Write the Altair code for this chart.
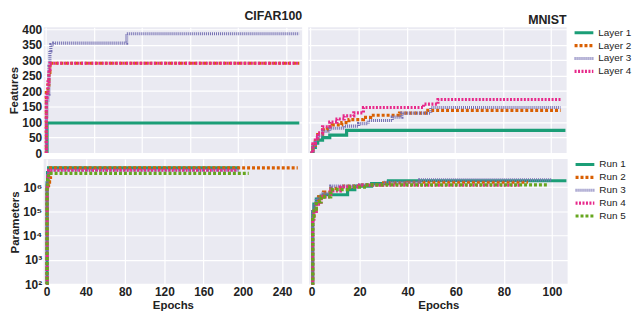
import altair as alt
import pandas as pd

LAYERS = ["Layer 1", "Layer 2", "Layer 3", "Layer 4"]
RUNS = ["Run 1", "Run 2", "Run 3", "Run 4", "Run 5"]
LAYER_COLORS = ["#1b9e77", "#d95f02", "#7570b3", "#e7298a"]
RUN_COLORS = ["#1b9e77", "#d95f02", "#7570b3", "#e7298a", "#66a61e"]
LAYER_DASH = [[1, 0], [3, 2], [1, 1], [2, 1.5]]
RUN_DASH = [[1, 0], [3, 2], [1, 1], [2, 1.5], [3, 2]]

# ---- CIFAR100 features per layer (epoch, features) ----
cifar_l1_x = [0, 1, 264]
cifar_l1_y = [0, 97, 97]
cifar_l2_x = [0, 0.3, 2, 3, 4, 264]
cifar_l2_y = [0, 195, 220, 260, 290, 290]
cifar_l3_x = [0, 0.5, 1, 2, 3, 4, 5, 8, 83, 84, 264]
cifar_l3_y = [0, 110, 165, 190, 280, 330, 350, 355, 355, 385, 385]
cifar_l4_x = [0, 0.3, 1, 2, 3, 4, 264]
cifar_l4_y = [0, 180, 195, 230, 270, 290, 290]

# ---- MNIST features per layer ----
mnist_l1_x = [0, 1, 2, 3, 5, 8, 14, 15, 106]
mnist_l1_y = [0, 18, 32, 42, 50, 58, 58, 73, 73]
mnist_l2_x = [0, 1, 2, 3, 5, 7, 9, 13, 16, 22, 25, 37, 48, 104]
mnist_l2_y = [0, 25, 45, 60, 75, 85, 91, 98, 108, 115, 122, 129, 138, 138]
mnist_l3_x = [0, 1, 2, 3, 5, 8, 14, 20, 24, 34, 38, 50, 104]
mnist_l3_y = [0, 20, 40, 55, 70, 80, 87, 95, 105, 116, 129, 147, 147]
mnist_l4_x = [0, 1, 2, 3, 5, 8, 11, 14, 18, 22, 46, 47, 53, 104]
mnist_l4_y = [0, 30, 50, 65, 85, 100, 110, 120, 130, 147, 147, 158, 173, 173]

# ---- CIFAR100 parameters per run ----
cifar_r1_x = [0, 0.5, 1, 2, 196]
cifar_r1_y = [100, 1.5e6, 4.0e6, 6.3e6, 6.3e6]
cifar_r2_x = [0, 0.5, 2, 3, 4, 256]
cifar_r2_y = [100, 1.0e6, 1.6e6, 2.5e6, 6.3e6, 6.3e6]
cifar_r3_x = [0, 0.5, 1, 2, 196]
cifar_r3_y = [100, 1.2e6, 3.0e6, 5.0e6, 5.0e6]
cifar_r4_x = [0, 0.5, 1, 2, 195]
cifar_r4_y = [100, 1.0e6, 2.6e6, 5.0e6, 5.0e6]
cifar_r5_x = [0, 0.5, 1, 2, 206]
cifar_r5_y = [100, 1.0e6, 2.0e6, 3.7e6, 3.7e6]

# ---- MNIST parameters per run ----
mnist_r1_x = [0, 0.5, 1, 2, 3, 5, 14, 15, 18, 25, 32, 106]
mnist_r1_y = [100, 1.0e5, 2.0e5, 3.2e5, 4.0e5, 4.9e5, 4.9e5, 8.0e5, 1.1e6, 1.4e6, 1.85e6, 1.85e6]
mnist_r2_x = [0, 0.5, 1, 2, 3, 5, 8, 12, 20, 30, 40, 90]
mnist_r2_y = [100, 5.0e4, 1.25e5, 2.5e5, 4.0e5, 6.3e5, 8.9e5, 1.1e6, 1.25e6, 1.5e6, 1.6e6, 1.6e6]
mnist_r3_x = [0, 0.5, 1, 2, 4, 8, 20, 30, 45, 100]
mnist_r3_y = [100, 1.0e5, 2.0e5, 3.5e5, 5.6e5, 1.1e6, 1.25e6, 1.6e6, 2.0e6, 2.0e6]
mnist_r4_x = [0, 0.5, 1, 2, 4, 8, 12, 20, 87]
mnist_r4_y = [100, 4.0e4, 1.0e5, 2.0e5, 4.0e5, 7.1e5, 1.0e6, 1.2e6, 1.2e6]
mnist_r5_x = [0, 0.5, 1, 2, 4, 8, 15, 22, 98]
mnist_r5_y = [100, 6.3e4, 1.25e5, 2.5e5, 4.0e5, 7.9e5, 1.0e6, 1.25e6, 1.35e6]


def frame(names, xs, ys):
    rows = []
    for i, (n, xx, yy) in enumerate(zip(names, xs, ys)):
        for a, b in zip(xx, yy):
            rows.append({"series": n, "order": i, "epoch": a, "value": b})
    return pd.DataFrame(rows)


cf = frame(LAYERS, [cifar_l1_x, cifar_l2_x, cifar_l3_x, cifar_l4_x],
           [cifar_l1_y, cifar_l2_y, cifar_l3_y, cifar_l4_y])
mf = frame(LAYERS, [mnist_l1_x, mnist_l2_x, mnist_l3_x, mnist_l4_x],
           [mnist_l1_y, mnist_l2_y, mnist_l3_y, mnist_l4_y])
cp = frame(RUNS, [cifar_r1_x, cifar_r2_x, cifar_r3_x, cifar_r4_x, cifar_r5_x],
           [cifar_r1_y, cifar_r2_y, cifar_r3_y, cifar_r4_y, cifar_r5_y])
mp = frame(RUNS, [mnist_r1_x, mnist_r2_x, mnist_r3_x, mnist_r4_x, mnist_r5_x],
           [mnist_r1_y, mnist_r2_y, mnist_r3_y, mnist_r4_y, mnist_r5_y])

W, H = 261, 127
LABEL_FONT = "Liberation Sans"
NARROW = "Liberation Sans Narrow, Liberation Sans"
sup = "['⁰','¹','²','³','⁴','⁵','⁶','⁷','⁸']"


def panel(df, names, colors, dashes, xdom, xticks, xlabels, ylog, ylabels, ytitle, title):
    if ylog:
        yscale = alt.Scale(type="log", domain=[95, 1.45e7], nice=False)
        yaxis = alt.Axis(values=[1e2, 1e3, 1e4, 1e5, 1e6], labels=ylabels,
                         labelExpr="'10' + " + sup + "[round(log(datum.value)/LN10)]",
                         title=ytitle if ylabels else None)
    else:
        yscale = alt.Scale(domain=[0, 406], nice=False)
        yaxis = alt.Axis(values=list(range(0, 401, 50)), labels=ylabels,
                         title=ytitle if ylabels else None)
    xaxis = alt.Axis(values=xticks, labels=xlabels, title="Epochs" if xlabels else None,
                     labelFlush=False, titleFont=NARROW)
    ch = alt.Chart(df).mark_line(interpolate="step-after", strokeWidth=3.2, clip=True).encode(
        x=alt.X("epoch:Q", scale=alt.Scale(domain=xdom, nice=False, zero=False), axis=xaxis),
        y=alt.Y("value:Q", scale=yscale, axis=yaxis),
        color=alt.Color("series:N", scale=alt.Scale(domain=names, range=colors),
                        legend=alt.Legend(title=None)),
        strokeDash=alt.StrokeDash("series:N", scale=alt.Scale(domain=names, range=dashes),
                                  legend=alt.Legend(title=None)),
        order="order:Q",
        detail="series:N",
    ).properties(width=W, height=H)
    if title:
        ch = ch.properties(title=alt.TitleParams(title, anchor="end"))
    return ch


top = alt.hconcat(
    panel(cf, LAYERS, LAYER_COLORS, LAYER_DASH, [-2.5, 267], [0, 50, 100, 150, 200, 250],
          False, False, True, "Features", "CIFAR100"),
    panel(mf, LAYERS, LAYER_COLORS, LAYER_DASH, [-1, 106.5], [0, 20, 40, 60, 80, 100],
          False, False, False, None, "MNIST"),
    spacing=6,
)
bottom = alt.hconcat(
    panel(cp, RUNS, RUN_COLORS, RUN_DASH, [-3, 260.5], [0, 40, 80, 120, 160, 200, 240],
          True, True, True, "Parameters", None),
    panel(mp, RUNS, RUN_COLORS, RUN_DASH, [-1, 106.5], [0, 20, 40, 60, 80, 100],
          True, True, False, None, None),
    spacing=6,
)

chart = alt.vconcat(top, bottom, spacing=0).resolve_scale(
    color="independent", strokeDash="independent"
).configure(padding=0, background="white").configure_view(
    fill="#EAEAF2", stroke=None
).configure_axis(
    domain=False, ticks=False, grid=True, gridColor="white", gridWidth=1.2,
    labelFont=LABEL_FONT, labelFontWeight="bold", labelFontSize=12, labelColor="#222222",
    labelPadding=2, titleFont=LABEL_FONT, titleFontWeight="bold", titleFontSize=11.5,
    titleColor="#222222", titlePadding=2,
).configure_title(
    font=LABEL_FONT, fontWeight="bold", fontSize=12.5, color="#222222", offset=1
).configure_legend(
    symbolType="M-2.68,0H2.68", symbolStrokeWidth=3.2, symbolSize=50, labelFont=NARROW,
    labelFontSize=10, labelColor="#222222", rowPadding=0, offset=12, padding=0,
    symbolOffset=0, labelOffset=9, symbolFillColor="transparent",
).configure_concat(spacing=6)

chart.save("out.html", embed_options={"renderer": "svg", "actions": False})
